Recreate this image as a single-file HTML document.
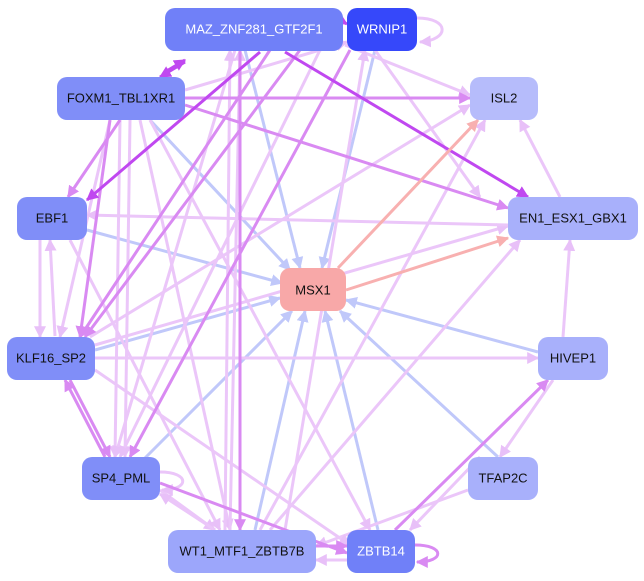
<!DOCTYPE html>
<html><head><meta charset="utf-8"><style>
html,body{margin:0;padding:0;background:#fff;}
svg{display:block;}
text{font-family:"Liberation Sans",sans-serif;font-size:13px;text-anchor:middle;dominant-baseline:central;}
</style></head><body>
<svg width="644" height="581" viewBox="0 0 644 581" xmlns="http://www.w3.org/2000/svg">
<defs>
<marker id="aL" markerWidth="4" markerHeight="4" refX="3.6" refY="2" orient="auto" markerUnits="strokeWidth"><path d="M0,0L4,2L0,4z" fill="#e8c0f8"/></marker>
<marker id="aM" markerWidth="4" markerHeight="4" refX="3.6" refY="2" orient="auto" markerUnits="strokeWidth"><path d="M0,0L4,2L0,4z" fill="#d98af2"/></marker>
<marker id="aS" markerWidth="4" markerHeight="4" refX="3.6" refY="2" orient="auto" markerUnits="strokeWidth"><path d="M0,0L4,2L0,4z" fill="#c048f0"/></marker>
<marker id="aB" markerWidth="4" markerHeight="4" refX="3.6" refY="2" orient="auto" markerUnits="strokeWidth"><path d="M0,0L4,2L0,4z" fill="#c0c8fa"/></marker>
<marker id="aR" markerWidth="4" markerHeight="4" refX="3.6" refY="2" orient="auto" markerUnits="strokeWidth"><path d="M0,0L4,2L0,4z" fill="#f8b0b0"/></marker>
</defs>
<g fill="none" stroke-width="3">
<!-- blue to MSX1 -->
<g stroke="#c0c8fa" marker-end="url(#aB)">
<line x1="87" y1="230" x2="282" y2="283"/>
<line x1="150" y1="120" x2="290" y2="270"/>
<line x1="245" y1="50" x2="300" y2="268"/>
<line x1="375" y1="50" x2="322" y2="268"/>
<line x1="95" y1="350" x2="280" y2="298"/>
<line x1="538" y1="352" x2="346" y2="300"/>
<line x1="498" y1="457" x2="340" y2="311"/>
<line x1="378" y1="530" x2="325" y2="311"/>
<line x1="255" y1="530" x2="305" y2="311"/>
<line x1="145" y1="458" x2="292" y2="311"/>
<line x1="370" y1="50" x2="390" y2="28"/>
</g>
<!-- light purple -->
<g stroke="#ebc6f9" marker-end="url(#aL)">
<line x1="95" y1="345" x2="508" y2="226"/>
<line x1="95" y1="358" x2="538" y2="358"/>
<line x1="260" y1="530" x2="485" y2="120"/>
<line x1="270" y1="530" x2="520" y2="240"/>
<line x1="468" y1="490" x2="316" y2="546"/>
<line x1="480" y1="457" x2="410" y2="530"/>
<line x1="55" y1="336" x2="50" y2="240"/>
<line x1="40" y1="240" x2="40" y2="337"/>
<line x1="110" y1="120" x2="60" y2="337"/>
<line x1="120" y1="120" x2="115" y2="457"/>
<line x1="130" y1="120" x2="125" y2="457"/>
<line x1="140" y1="120" x2="230" y2="530"/>
<line x1="150" y1="120" x2="370" y2="530"/>
<line x1="95" y1="370" x2="350" y2="545"/>
<line x1="70" y1="240" x2="220" y2="530"/>
<line x1="345" y1="45" x2="470" y2="95"/>
<line x1="375" y1="50" x2="480" y2="197"/>
<line x1="560" y1="197" x2="520" y2="120"/>
<line x1="563" y1="337" x2="570" y2="240"/>
<line x1="553" y1="380" x2="500" y2="457"/>
<line x1="508" y1="225" x2="87" y2="215"/>
<line x1="320" y1="50" x2="120" y2="457"/>
<line x1="235" y1="50" x2="115" y2="457"/>
<line x1="225" y1="530" x2="230" y2="50"/>
<line x1="230" y1="530" x2="240" y2="50"/>
<line x1="160" y1="490" x2="215" y2="530"/>
<line x1="215" y1="530" x2="160" y2="494"/>
<line x1="285" y1="530" x2="365" y2="50"/>
<line x1="90" y1="337" x2="470" y2="105"/>
<line x1="185" y1="90" x2="347" y2="42"/>
<line x1="347" y1="560" x2="316" y2="560"/>
<path d="M417,18 C450,18 450,40 420,42"/>
<path d="M160,472 C190,472 190,490 162,490"/>
</g>
<!-- mid purple -->
<g stroke="#d98af2" marker-end="url(#aM)">
<line x1="185" y1="98" x2="470" y2="98"/>
<line x1="185" y1="105" x2="508" y2="208"/>
<line x1="120" y1="120" x2="68" y2="197"/>
<line x1="160" y1="483" x2="347" y2="553"/>
<line x1="395" y1="530" x2="548" y2="380"/>
<line x1="316" y1="546" x2="347" y2="546"/>
<line x1="70" y1="380" x2="110" y2="457"/>
<line x1="105" y1="457" x2="65" y2="380"/>
<line x1="350" y1="50" x2="130" y2="457"/>
<line x1="240" y1="50" x2="240" y2="530"/>
<line x1="300" y1="50" x2="85" y2="337"/>
<line x1="270" y1="50" x2="80" y2="337"/>
<line x1="110" y1="120" x2="80" y2="337"/>
<path d="M415,545 C445,545 445,562 417,562"/>
</g>
<!-- strong -->
<g stroke="#c048f0" marker-end="url(#aS)">
<line x1="285" y1="52" x2="528" y2="197"/>
<line x1="185" y1="62" x2="160" y2="77"/>
<line x1="165" y1="72" x2="185" y2="60"/>
<line x1="260" y1="52" x2="87" y2="200"/>
<path d="M320,22 C335,20 340,20 347,24"/>
</g>
<!-- salmon -->
<g stroke="#f8b0b0" marker-end="url(#aR)">
<line x1="346" y1="290" x2="508" y2="238"/>
<line x1="338" y1="268" x2="478" y2="120"/>
</g>
</g>
<!-- nodes -->
<g>
<rect x="165" y="8" width="178" height="43" rx="10" fill="#7080f8"/><text x="254" y="29" fill="#fff">MAZ_ZNF281_GTF2F1</text>
<rect x="347" y="8" width="70" height="43" rx="10" fill="#3648fa"/><text x="382" y="29" fill="#fff">WRNIP1</text>
<rect x="57" y="77" width="128" height="43" rx="10" fill="#808ef8"/><text x="121" y="98" fill="#111">FOXM1_TBL1XR1</text>
<rect x="470" y="77" width="68" height="43" rx="10" fill="#b6bcfb"/><text x="504" y="98" fill="#111">ISL2</text>
<rect x="17" y="197" width="70" height="43" rx="10" fill="#808ef8"/><text x="52" y="218" fill="#111">EBF1</text>
<rect x="508" y="197" width="130" height="43" rx="10" fill="#a8b0fb"/><text x="573" y="218" fill="#111">EN1_ESX1_GBX1</text>
<rect x="280" y="268" width="66" height="43" rx="10" fill="#f8a8a8"/><text x="313" y="290" fill="#111">MSX1</text>
<rect x="7" y="337" width="88" height="43" rx="10" fill="#808ef8"/><text x="51" y="358" fill="#111">KLF16_SP2</text>
<rect x="538" y="337" width="70" height="43" rx="10" fill="#a8b0fb"/><text x="573" y="358" fill="#111">HIVEP1</text>
<rect x="82" y="457" width="78" height="43" rx="10" fill="#808ef8"/><text x="121" y="478" fill="#111">SP4_PML</text>
<rect x="468" y="457" width="70" height="43" rx="10" fill="#a8b0fb"/><text x="503" y="478" fill="#111">TFAP2C</text>
<rect x="168" y="530" width="148" height="43" rx="10" fill="#9ca6fb"/><text x="242" y="551" fill="#111">WT1_MTF1_ZBTB7B</text>
<rect x="347" y="530" width="68" height="43" rx="10" fill="#7080f8"/><text x="381" y="551" fill="#fff">ZBTB14</text>
</g>
</svg>
</body></html>
